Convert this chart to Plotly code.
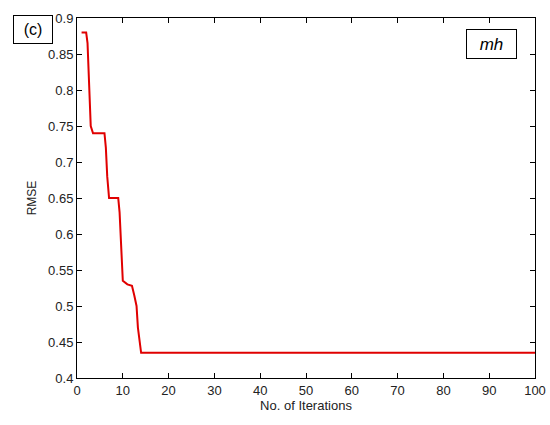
import plotly.graph_objects as go

# convergence curve
iterations = [1, 2, 2.3, 2.5, 2.8, 3, 3.5, 6, 6.3, 6.6, 7, 9, 9.3, 9.6, 10,
              11, 12, 12.5, 13, 13.3, 14, 100]
rmse = [0.88, 0.88, 0.865, 0.83, 0.77, 0.75, 0.74, 0.74, 0.72, 0.68, 0.65,
        0.65, 0.63, 0.58, 0.535, 0.53, 0.528, 0.515, 0.50, 0.47, 0.435, 0.435]

x_ticks = list(range(0, 101, 10))
y_ticks = [0.4, 0.45, 0.5, 0.55, 0.6, 0.65, 0.7, 0.75, 0.8, 0.85, 0.9]
y_labels = ["0.4", "0.45", "0.5", "0.55", "0.6", "0.65", "0.7", "0.75", "0.8", "0.85", "0.9"]

font = "Liberation Sans, Arial, sans-serif"

fig = go.Figure()
fig.add_trace(go.Scatter(
    x=iterations, y=rmse, mode="lines",
    line=dict(color="#e00000", width=2),
    showlegend=False
))

axis_style = dict(
    showline=True, linecolor="black", linewidth=1, mirror="ticks",
    ticks="inside", ticklen=5, tickcolor="black",
    showgrid=False, zeroline=False, automargin=False,
    tickfont=dict(family=font, size=13, color="#222"),
)

fig.update_xaxes(range=[0, 100], tickvals=x_ticks,
                 title=dict(text="No. of Iterations", standoff=2,
                            font=dict(family=font, size=13, color="#222")),
                 **axis_style)
fig.update_yaxes(range=[0.4, 0.9], tickvals=y_ticks, ticktext=y_labels,
                 title=dict(text="RMSE", standoff=8,
                            font=dict(family=font, size=12, color="#222")),
                 **axis_style)

fig.add_annotation(text="(c)", xref="paper", yref="paper", x=-0.097, y=0.968,
                   xanchor="center", yanchor="middle",
                   showarrow=False, font=dict(family=font, size=16, color="black"),
                   bordercolor="black", borderwidth=1, borderpad=3, bgcolor="white",
                   width=32, height=21)
fig.add_annotation(text="<i>mh</i>", xref="paper", yref="paper", x=0.906, y=0.927,
                   xanchor="center", yanchor="middle",
                   showarrow=False, font=dict(family=font, size=17, color="black"),
                   bordercolor="black", borderwidth=1, borderpad=3, bgcolor="white",
                   width=43, height=22)

fig.update_layout(
    width=550, height=425,
    margin=dict(l=77, r=15, t=18, b=47),
    plot_bgcolor="white", paper_bgcolor="white",
)

# drop the default page margin so the figure sits at the window's corner
fig.write_html("out.html", config={"displayModeBar": False},
               post_script="document.body.style.margin='0';")
